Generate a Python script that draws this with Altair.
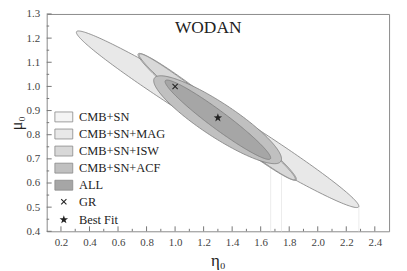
import numpy as np
import pandas as pd
import altair as alt

# ---------------- data ----------------
series = ["CMB+SN", "CMB+SN+MAG", "CMB+SN+ISW", "CMB+SN+ACF", "ALL"]
fills = ["#f4f4f4", "#e8e8e8", "#d8d8d8", "#c0c0c0", "#a6a6a6"]

# ellipse parameters: centre, offset of the right-most point, vertical half width at centre
center_eta = [1.295, 1.298, 1.295, 1.298, 1.300]
center_mu = [0.874, 0.864, 0.874, 0.862, 0.862]
reach_eta = [0.555, 0.990, 0.548, 0.448, 0.370]
reach_mu = [-0.258, -0.360, -0.257, -0.162, -0.158]
half_mu = [0.050, 0.064, 0.045, 0.083, 0.045]
has_fill = [False, True, True, True, True]

markers = ["GR", "Best Fit"]
marker_eta = [1.0, 1.3]
marker_mu = [1.0, 0.87]

# faint vertical artefact lines below the contour tips
vline_eta = [1.67, 1.746, 2.288]
vline_top = [0.705, 0.700, 0.504]

x_major = [0.2, 0.4, 0.6, 0.8, 1.0, 1.2, 1.4, 1.6, 1.8, 2.0, 2.2, 2.4]
x_minor = [0.3, 0.5, 0.7, 0.9, 1.1, 1.3, 1.5, 1.7, 1.9, 2.1, 2.3]
y_major = [0.4, 0.5, 0.6, 0.7, 0.8, 0.9, 1.0, 1.1, 1.2, 1.3]
y_minor = [0.45, 0.55, 0.65, 0.75, 0.85, 0.95, 1.05, 1.15, 1.25]

title_text = "WODAN"
title_eta = 1.232
title_mu = 1.222

# ---------------- build tables ----------------
area_rows, line_rows = [], []
for i, s in enumerate(series):
    t = np.linspace(0, np.pi, 121)
    xe = center_eta[i] + reach_eta[i] * np.cos(t)
    mid = center_mu[i] + reach_mu[i] * np.cos(t)
    for a, b, c in zip(xe, mid + half_mu[i] * np.sin(t), mid - half_mu[i] * np.sin(t)):
        area_rows.append({"series": s, "eta": a, "mu": b, "lo": c})
    tt = np.linspace(0, 2 * np.pi, 241)
    for k, v in enumerate(tt):
        line_rows.append({
            "series": s, "k": k,
            "eta": center_eta[i] + reach_eta[i] * np.cos(v),
            "mu": center_mu[i] + reach_mu[i] * np.cos(v) + half_mu[i] * np.sin(v),
        })
area_df = pd.DataFrame(area_rows)
line_df = pd.DataFrame(line_rows)
pts_df = pd.DataFrame({"marker": markers, "eta": marker_eta, "mu": marker_mu})
vl_df = pd.DataFrame({"eta": vline_eta, "mu": vline_top, "lo": [0.4] * 3})
xt_major = pd.DataFrame({"eta": x_major})
xt_minor = pd.DataFrame({"eta": x_minor})
yt_major = pd.DataFrame({"mu": y_major})
yt_minor = pd.DataFrame({"mu": y_minor})
title_df = pd.DataFrame({"eta": [title_eta], "mu": [title_mu], "txt": [title_text]})

W, H = 345, 219
FONT = "Times New Roman, Liberation Serif, serif"

xscale = alt.Scale(domain=[0.1, 2.5], nice=False, zero=False)
yscale = alt.Scale(domain=[0.4, 1.3], nice=False, zero=False)
xaxis = alt.Axis(values=x_major, format=".1f", ticks=False, grid=False, domain=False,
                 labelFont=FONT, labelFontSize=11, labelColor="#444", labelPadding=5,
                 title="η₀", titleFont=FONT, titleFontSize=17, titleFontWeight="normal",
                 titleColor="#222", titlePadding=5)
yaxis = alt.Axis(values=y_major, format=".1f", ticks=False, grid=False, domain=False,
                 labelFont=FONT, labelFontSize=11, labelColor="#444", labelPadding=7,
                 title="μ₀", titleFont=FONT, titleFontSize=16, titleFontWeight="normal",
                 titleColor="#222", titlePadding=2)


def X():
    return alt.X("eta:Q", scale=xscale, axis=xaxis)


def Y():
    return alt.Y("mu:Q", scale=yscale, axis=yaxis)


rect_path = "M-1.8,-1L1.8,-1L1.8,1L-1.8,1Z"
cross_path = ("M-0.6,-0.45L-0.45,-0.6L0,-0.15L0.45,-0.6L0.6,-0.45L0.15,0L0.6,0.45"
              "L0.45,0.6L0,0.15L-0.45,0.6L-0.6,0.45L-0.15,0Z")
star_path = ("M0,-0.9L0.212,-0.291L0.856,-0.278L0.342,0.111L0.529,0.728L0,0.36"
             "L-0.529,0.728L-0.342,0.111L-0.856,-0.278L-0.212,-0.291Z")

fill_enc = alt.Fill(
    "series:N",
    scale=alt.Scale(domain=series, range=fills),
    legend=alt.Legend(orient="none", legendX=11, legendY=97.5, title=None,
                      symbolType=rect_path, symbolSize=100,
                      symbolStrokeColor="#888", symbolStrokeWidth=0.8,
                      labelFont=FONT, labelFontSize=12.5, labelColor="#222",
                      labelOffset=9, rowPadding=3.2),
)

layers = []
# faint verticals
layers.append(alt.Chart(vl_df).mark_rule(color="#ececec", strokeWidth=1).encode(
    x=X(), y=Y(), y2="lo:Q"))

order = ["CMB+SN+MAG", "CMB+SN", "CMB+SN+ISW", "CMB+SN+ACF", "ALL"]
for s in order:
    i = series.index(s)
    if has_fill[i]:
        layers.append(alt.Chart(area_df).transform_filter(alt.datum.series == s)
                      .mark_area(stroke=None, opacity=1)
                      .encode(x=X(), y=Y(), y2="lo:Q", fill=fill_enc))
    layers.append(alt.Chart(line_df).transform_filter(alt.datum.series == s)
                  .mark_line(color="#7c7c7c", strokeWidth=0.8)
                  .encode(x=X(), y=Y(), order="k:Q", detail="series:N"))

layers.append(alt.Chart(pts_df).mark_point(filled=True, size=100, color="#222", opacity=1).encode(
    x=X(), y=Y(),
    shape=alt.Shape("marker:N",
                    scale=alt.Scale(domain=markers, range=[cross_path, star_path]),
                    legend=alt.Legend(orient="none", legendX=11, legendY=183, title=None,
                                      symbolSize=100, symbolFillColor="#222",
                                      labelFont=FONT, labelFontSize=12.5, labelColor="#222",
                                      labelOffset=9, rowPadding=3))))

# inward ticks
layers.append(alt.Chart(xt_major).mark_rule(color="#777").encode(
    x=X(), y=alt.value(H), y2=alt.value(H - 5)))
layers.append(alt.Chart(xt_minor).mark_rule(color="#777").encode(
    x=X(), y=alt.value(H), y2=alt.value(H - 2.5)))
layers.append(alt.Chart(yt_major).mark_rule(color="#777").encode(
    y=Y(), x=alt.value(0), x2=alt.value(5)))
layers.append(alt.Chart(yt_minor).mark_rule(color="#777").encode(
    y=Y(), x=alt.value(0), x2=alt.value(2.5)))

layers.append(alt.Chart(title_df).mark_text(font=FONT, fontSize=17.5, color="#222",
                                            align="center", baseline="alphabetic").encode(
    x=X(), y=Y(), text="txt:N"))

chart = alt.layer(*layers).properties(
    width=W, height=H,
    autosize=alt.AutoSizeParams(type="none"),
    padding={"left": 39, "top": 5, "right": 10, "bottom": 40},
).configure_view(stroke="#8a8a8a", strokeWidth=1).resolve_scale(fill="shared", shape="shared")

chart.save("out.html", embed_options={"renderer": "svg", "actions": False})
